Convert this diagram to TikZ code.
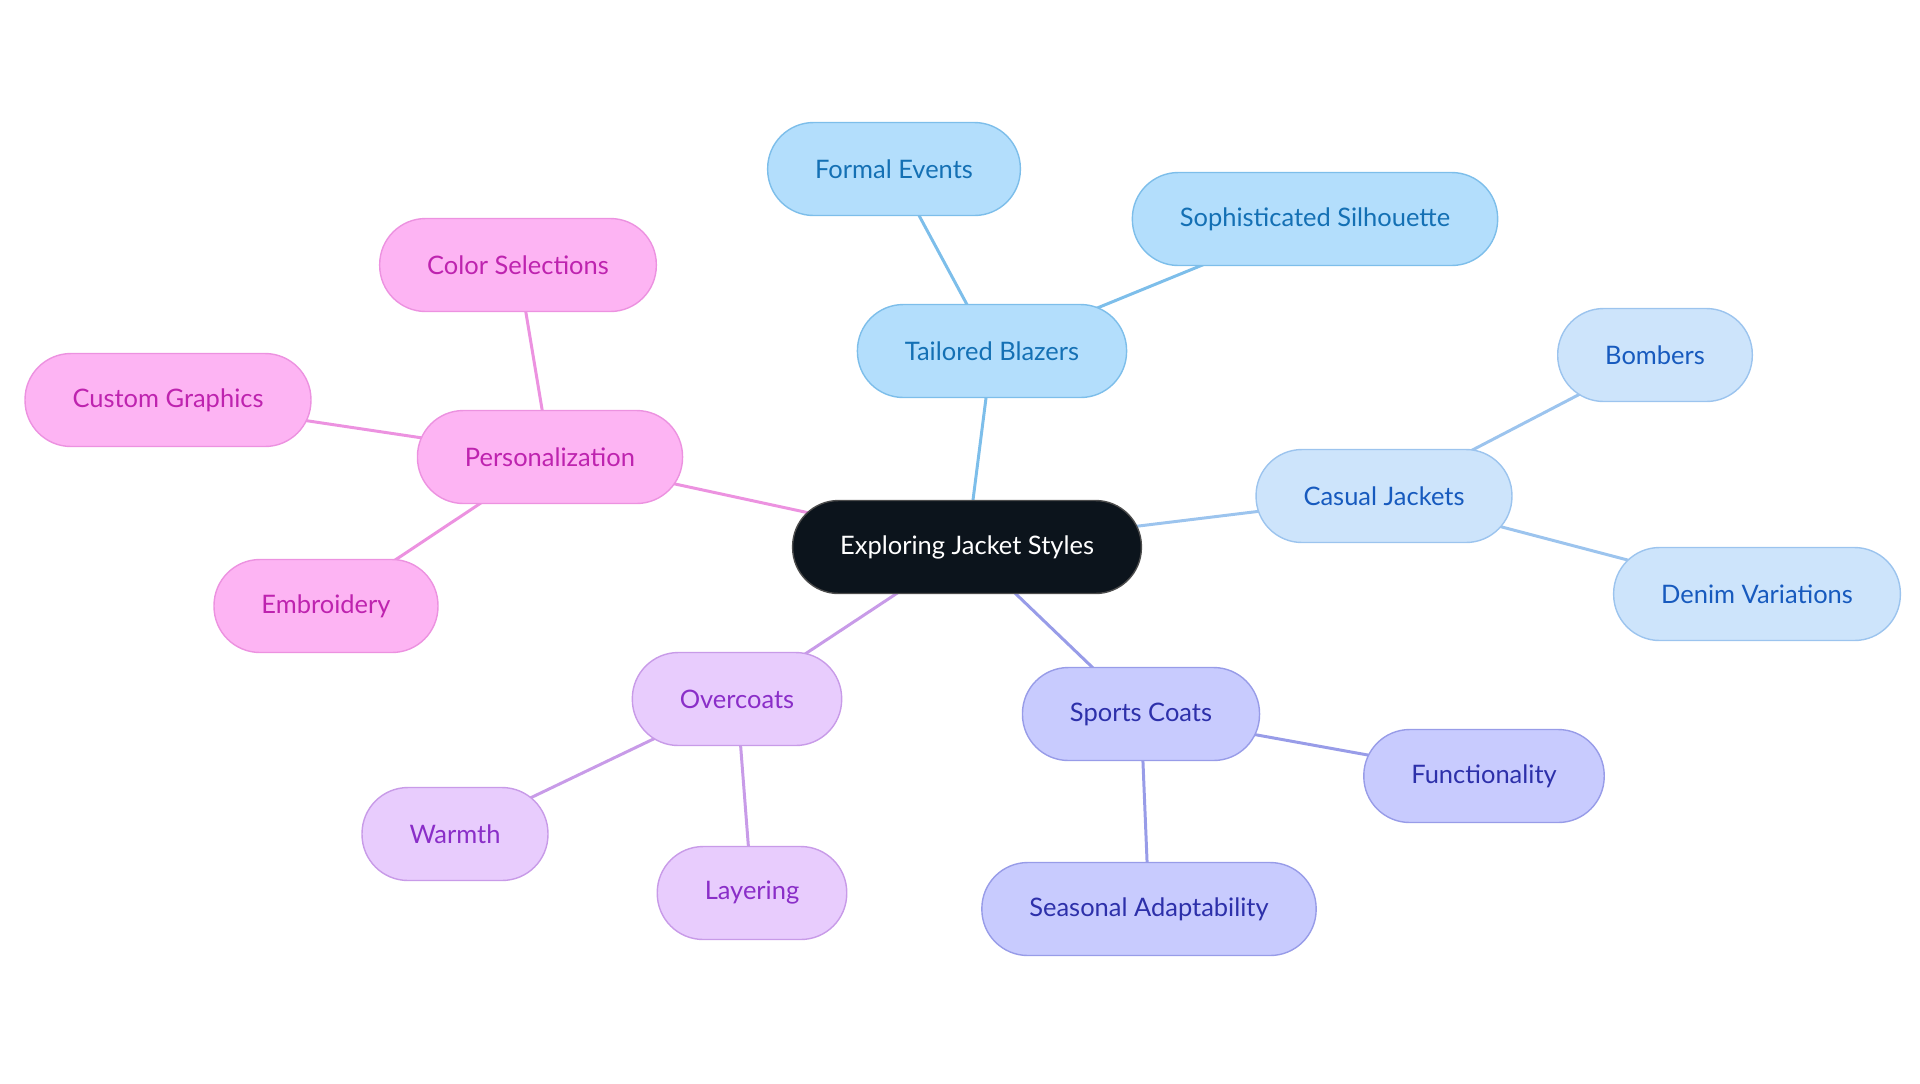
\documentclass[tikz,border=0pt]{standalone}
\usepackage{fontspec}
\setmainfont{Lato}
\usetikzlibrary{positioning,backgrounds}
\definecolor{rootfill}{HTML}{0C141C}
\definecolor{bluefill}{HTML}{B3DEFC}
\definecolor{bluedraw}{HTML}{7DBEEA}
\definecolor{bluetext}{HTML}{1470B4}
\definecolor{skyfill}{HTML}{CDE4FB}
\definecolor{skydraw}{HTML}{9CC4EE}
\definecolor{skytext}{HTML}{175ABE}
\definecolor{indfill}{HTML}{C8CBFE}
\definecolor{inddraw}{HTML}{989CE8}
\definecolor{indtext}{HTML}{2D30AA}
\definecolor{purfill}{HTML}{E8CCFD}
\definecolor{purdraw}{HTML}{C89BE8}
\definecolor{purtext}{HTML}{8A2EC8}
\definecolor{pinkfill}{HTML}{FDB4F3}
\definecolor{pinkdraw}{HTML}{EC92E0}
\definecolor{pinktext}{HTML}{BE23AF}
\tikzset{
  nd/.style={rectangle, rounded corners=0.92cm, minimum height=1.86cm, inner xsep=0.95cm, text centered, line width=0.8pt, font=\fontsize{14.5}{16}\selectfont},
  top/.style={nd, fill=rootfill, draw=black!70, text=white},
  blz/.style={nd, fill=bluefill, draw=bluedraw, text=bluetext},
  cas/.style={nd, fill=skyfill, draw=skydraw, text=skytext},
  spc/.style={nd, fill=indfill, draw=inddraw, text=indtext},
  ovc/.style={nd, fill=purfill, draw=purdraw, text=purtext},
  prs/.style={nd, fill=pinkfill, draw=pinkdraw, text=pinktext},
  ln/.style={line width=1.7pt}
}
\begin{document}
\begin{tikzpicture}[x=0.02cm, y=-0.02cm]
	\useasboundingbox (0,0) rectangle (1920,1083);
	\node[top] (root) at (967,547) {Exploring Jacket Styles};
	% tailored blazers
	\node[blz] (blazers) at (992,351) {Tailored Blazers};
	\node[blz] (formal) at (894,169) {Formal Events};
	\node[blz] (silhouette) at (1315,219) {Sophisticated Silhouette};
	% casual jackets
	\node[cas] (casual) at (1384,496) {Casual Jackets};
	\node[cas] (bombers) at (1655,355) {Bombers};
	\node[cas] (denim) at (1757,594) {Denim Variations};
	% sports coats
	\node[spc] (sports) at (1141,714) {Sports Coats};
	\node[spc] (function) at (1484,776) {Functionality};
	\node[spc] (seasonal) at (1149,909) {Seasonal Adaptability};
	% overcoats
	\node[ovc] (overcoats) at (737,699) {Overcoats};
	\node[ovc] (warmth) at (455,834) {Warmth};
	\node[ovc] (layering) at (752,893) {Layering};
	% personalization
	\node[prs] (personal) at (550,457) {Personalization};
	\node[prs] (colors) at (518,265) {Color Selections};
	\node[prs] (graphics) at (168,400) {Custom Graphics};
	\node[prs] (embroidery) at (326,606) {Embroidery};

	\begin{scope}[on background layer]
	\draw[ln, bluedraw] (root.center) -- (blazers.center);
	\draw[ln, bluedraw] (blazers.center) -- (formal.center);
	\draw[ln, bluedraw] (blazers.center) -- (silhouette.center);
	\draw[ln, skydraw] (root.center) -- (casual.center);
	\draw[ln, skydraw] (casual.center) -- (bombers.center);
	\draw[ln, skydraw] (casual.center) -- (denim.center);
	\draw[ln, inddraw] (root.center) -- (sports.center);
	\draw[ln, inddraw] (sports.center) -- (function.center);
	\draw[ln, inddraw] (sports.center) -- (seasonal.center);
	\draw[ln, purdraw] (root.center) -- (overcoats.center);
	\draw[ln, purdraw] (overcoats.center) -- (warmth.center);
	\draw[ln, purdraw] (overcoats.center) -- (layering.center);
	\draw[ln, pinkdraw] (root.center) -- (personal.center);
	\draw[ln, pinkdraw] (personal.center) -- (colors.center);
	\draw[ln, pinkdraw] (personal.center) -- (graphics.center);
	\draw[ln, pinkdraw] (personal.center) -- (embroidery.center);
	\end{scope}
\end{tikzpicture}
\end{document}
